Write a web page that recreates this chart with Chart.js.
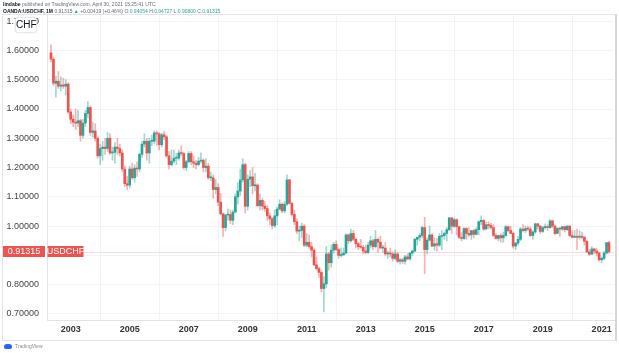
<!DOCTYPE html>
<html>
<head>
<meta charset="utf-8">
<script src="https://cdn.jsdelivr.net/npm/chart.js@4.4.1/dist/chart.umd.min.js"></script>
<style>
  html, body { margin: 0; padding: 0; background: #fff; }
  #wrap { position: relative; width: 619px; height: 353px; overflow: hidden; font-family: "Liberation Sans", Arial, sans-serif; }
  #c { position: absolute; left: 0; top: 0; }
  #frame { position: absolute; left: 2px; top: 14px; width: 612px; height: 325px; border: 1px solid #e3e5ea; border-right: 2px solid #d4d6db; pointer-events: none; }
  .hdr { position: absolute; left: 3px; font-size: 5px; line-height: 6px; color: #6a6d78; white-space: nowrap; }
  .hdr b { color: #131722; }
  .hdr .g { color: #26a69a; }
  #chf { position: absolute; left: 15px; top: 17px; width: 20px; height: 14px; background: #fff; border: 1px solid #e6e8ee; border-radius: 3px; font-size: 10px; line-height: 14px; text-align: center; color: #131722; box-shadow: 0 0 2px rgba(0,0,0,0.10); }
  #logo { position: absolute; left: 4px; top: 343px; font-size: 5px; color: #8a8d96; white-space: nowrap; line-height: 7px; }
  #logo i { display: inline-block; width: 8px; height: 5px; background: #2962ff; border-radius: 3px 3px 2px 2px; margin-right: 3px; vertical-align: middle; }
</style>
</head>
<body>
<div id="wrap">
  <canvas id="c" width="619" height="353"></canvas>
  <div id="frame"></div>
  <div class="hdr" style="top:1px"><b>lindabe</b> published on TradingView.com, April 30, 2021 15:25:41 UTC</div>
  <div class="hdr" style="top:8px"><b>OANDA:USDCHF, 1M</b> 0.91315 <span class="g">▲</span> +0.00419 (+0.46%) O:<span class="g">0.94054</span> H:<span class="g">0.94727</span> L:<span class="g">0.90800</span> C:<span class="g">0.91315</span></div>
  <div id="chf">CHF</div>
  <div id="logo"><i></i>TradingView</div>
</div>
<script>
// ---- data: USDCHF monthly candles, May 2002 .. Apr 2021 ----
const startYear = 2002;
const startMonth = 5;
const yearLabels = ['2003','2005','2007','2009','2011','2013','2015','2017','2019','2021'];
const priceTicks = [0.7,0.8,0.9,1.0,1.1,1.2,1.3,1.4,1.5,1.6,1.7];
const lastPrice = 0.91315;
const symbolName = 'USDCHF';

const open = [
 1.592,1.570,1.488,1.495,1.478,1.482,1.478,1.485,
 1.390,1.365,1.355,1.352,1.360,1.310,1.352,1.385,1.405,1.320,1.325,1.300,
 1.240,1.265,1.270,1.265,1.300,1.250,1.252,1.270,1.265,1.250,1.195,1.145,
 1.140,1.195,1.165,1.198,1.195,1.245,1.280,1.290,1.250,1.290,1.290,1.318,
 1.315,1.278,1.312,1.305,1.240,1.210,1.222,1.232,1.232,1.250,1.248,1.200,
 1.220,1.248,1.220,1.215,1.210,1.222,1.225,1.200,1.205,1.165,1.165,1.125,
 1.132,1.082,1.042,0.995,1.038,1.040,1.020,1.048,1.100,1.120,1.158,1.210,
 1.068,1.160,1.168,1.138,1.140,1.070,1.088,1.068,1.060,1.035,1.025,1.002,
 1.035,1.058,1.075,1.052,1.075,1.158,1.078,1.040,1.015,0.983,0.985,1.000,
 0.935,0.945,0.930,0.918,0.868,0.855,0.842,0.787,0.803,0.905,0.875,0.918,
 0.938,0.920,0.900,0.902,0.908,0.970,0.950,0.975,0.955,0.940,0.930,0.928,
 0.915,0.910,0.935,0.950,0.930,0.955,0.945,0.925,0.925,0.905,0.908,0.905,
 0.890,0.905,0.880,0.885,0.880,0.895,0.888,0.908,0.915,0.955,0.962,0.968,
 0.995,0.920,0.952,0.970,0.932,0.940,0.935,0.965,0.968,0.975,0.988,1.028,
 1.000,1.022,0.998,0.962,0.958,0.992,0.975,0.970,0.985,0.972,0.988,1.015,
 1.020,0.990,1.005,1.002,0.995,0.968,0.958,0.968,0.960,0.968,0.998,0.985,
 0.975,0.932,0.942,0.955,0.990,0.985,0.992,0.990,0.968,0.980,1.008,1.000,
 0.982,0.995,0.998,0.995,1.018,1.000,0.975,0.992,0.990,0.998,0.988,1.000,
 0.968,0.962,0.965,0.962,0.965,0.962,0.948,0.912,0.904,0.922,0.915,0.908,
 0.885,0.890,0.908,0.944
];
const high = [
 1.619,1.578,1.512,1.528,1.510,1.505,1.500,1.490,
 1.400,1.380,1.400,1.395,1.365,1.365,1.395,1.425,1.410,1.355,1.350,1.305,
 1.280,1.290,1.300,1.320,1.315,1.270,1.285,1.300,1.280,1.260,1.205,1.170,
 1.205,1.215,1.210,1.220,1.250,1.290,1.315,1.300,1.300,1.310,1.325,1.325,
 1.320,1.318,1.325,1.310,1.255,1.260,1.260,1.248,1.260,1.275,1.252,1.225,
 1.255,1.255,1.240,1.225,1.235,1.250,1.230,1.230,1.215,1.185,1.175,1.160,
 1.145,1.112,1.045,1.040,1.058,1.055,1.055,1.110,1.150,1.195,1.230,1.215,
 1.175,1.190,1.200,1.180,1.145,1.110,1.095,1.085,1.070,1.045,1.030,1.055,
 1.065,1.090,1.080,1.085,1.175,1.160,1.082,1.055,1.025,1.000,1.010,1.005,
 0.975,0.970,0.945,0.925,0.895,0.860,0.850,0.828,0.930,0.910,0.935,0.945,
 0.950,0.925,0.925,0.925,0.975,0.972,0.990,0.985,0.960,0.945,0.955,0.935,
 0.935,0.945,0.965,0.955,0.985,0.960,0.965,0.935,0.945,0.915,0.925,0.912,
 0.920,0.910,0.890,0.890,0.900,0.905,0.910,0.918,0.958,0.962,0.975,1.000,
 1.030,0.960,1.000,0.975,0.960,0.958,0.975,0.985,0.980,0.995,1.030,1.030,
 1.028,1.025,1.000,0.978,0.995,0.995,0.995,0.985,0.990,0.995,1.018,1.035,
 1.022,1.015,1.015,1.010,1.005,0.975,0.970,0.975,0.980,1.002,1.000,1.000,
 0.980,0.945,0.965,0.995,1.005,1.000,1.000,0.998,0.985,1.010,1.010,1.002,
 1.000,1.008,1.005,1.022,1.020,1.005,0.995,0.995,1.000,1.000,1.002,1.002,
 0.985,0.985,0.990,0.985,0.980,0.965,0.952,0.920,0.930,0.925,0.925,0.910,
 0.895,0.915,0.945,0.948
];
const low = [
 1.560,1.480,1.440,1.470,1.462,1.470,1.448,1.385,
 1.350,1.340,1.330,1.340,1.290,1.300,1.340,1.370,1.310,1.305,1.290,1.232,
 1.210,1.225,1.245,1.255,1.245,1.225,1.215,1.245,1.240,1.185,1.135,1.125,
 1.130,1.160,1.150,1.170,1.185,1.235,1.270,1.225,1.215,1.275,1.280,1.275,
 1.260,1.270,1.295,1.235,1.195,1.205,1.215,1.210,1.225,1.240,1.195,1.190,
 1.215,1.210,1.200,1.195,1.205,1.215,1.185,1.185,1.160,1.155,1.095,1.110,
 1.070,1.038,0.965,0.985,1.020,1.008,1.005,1.045,1.075,1.105,1.150,1.045,
 1.055,1.135,1.110,1.120,1.065,1.055,1.055,1.050,1.020,1.005,0.990,0.995,
 1.005,1.055,1.045,1.045,1.070,1.075,1.035,1.005,0.975,0.950,0.960,0.930,
 0.930,0.925,0.895,0.865,0.850,0.825,0.775,0.707,0.790,0.850,0.860,0.908,
 0.915,0.890,0.895,0.900,0.905,0.940,0.945,0.950,0.925,0.920,0.925,0.905,
 0.905,0.905,0.925,0.920,0.925,0.910,0.925,0.910,0.900,0.890,0.895,0.880,
 0.885,0.875,0.870,0.872,0.870,0.885,0.885,0.900,0.912,0.935,0.950,0.960,
 0.838,0.905,0.950,0.930,0.918,0.915,0.930,0.920,0.955,0.950,0.985,0.975,
 0.995,0.970,0.958,0.950,0.955,0.955,0.965,0.955,0.960,0.970,0.970,1.005,
 0.985,0.990,0.990,0.990,0.965,0.955,0.950,0.945,0.945,0.965,0.980,0.975,
 0.925,0.920,0.935,0.950,0.980,0.978,0.985,0.965,0.955,0.975,0.990,0.975,
 0.978,0.990,0.985,0.992,0.995,0.970,0.975,0.965,0.985,0.980,0.985,0.965,
 0.960,0.960,0.920,0.955,0.958,0.935,0.910,0.900,0.905,0.905,0.898,0.880,
 0.875,0.885,0.905,0.908
];
const close = [
 1.570,1.488,1.495,1.478,1.482,1.478,1.485,1.390,
 1.365,1.355,1.352,1.360,1.310,1.352,1.385,1.405,1.320,1.325,1.300,1.240,
 1.265,1.270,1.265,1.300,1.250,1.252,1.270,1.265,1.250,1.195,1.145,1.140,
 1.195,1.165,1.198,1.195,1.245,1.280,1.290,1.250,1.290,1.290,1.318,1.315,
 1.278,1.312,1.305,1.240,1.210,1.222,1.232,1.232,1.250,1.248,1.200,1.220,
 1.248,1.220,1.215,1.210,1.222,1.225,1.200,1.205,1.165,1.165,1.125,1.132,
 1.082,1.042,0.995,1.038,1.040,1.020,1.048,1.100,1.120,1.158,1.210,1.068,
 1.160,1.168,1.138,1.140,1.070,1.088,1.068,1.060,1.035,1.025,1.002,1.035,
 1.058,1.075,1.052,1.075,1.158,1.078,1.040,1.015,0.983,0.985,1.000,0.935,
 0.945,0.930,0.918,0.868,0.855,0.842,0.787,0.803,0.905,0.875,0.918,0.938,
 0.920,0.900,0.902,0.908,0.970,0.950,0.975,0.955,0.940,0.930,0.928,0.915,
 0.910,0.935,0.950,0.930,0.955,0.945,0.925,0.925,0.905,0.908,0.905,0.890,
 0.905,0.880,0.885,0.880,0.895,0.888,0.908,0.915,0.955,0.962,0.968,0.995,
 0.920,0.952,0.970,0.932,0.940,0.935,0.965,0.968,0.975,0.988,1.028,1.000,
 1.022,0.998,0.962,0.958,0.992,0.975,0.970,0.985,0.972,0.988,1.015,1.020,
 0.990,1.005,1.002,0.995,0.968,0.958,0.968,0.960,0.968,0.998,0.985,0.975,
 0.932,0.942,0.955,0.990,0.985,0.992,0.990,0.968,0.980,1.008,1.000,0.982,
 0.995,0.998,0.995,1.018,1.000,0.975,0.992,0.990,0.998,0.988,1.000,0.968,
 0.962,0.965,0.962,0.965,0.962,0.948,0.912,0.904,0.922,0.915,0.908,0.885,
 0.890,0.908,0.944,0.91315
];

// ---- build library structures ----
const UP = '#26a69a', DOWN = '#ef5350';
const UP_W = 'rgba(38,166,154,0.45)', DOWN_W = 'rgba(239,83,80,0.45)';
const idx = open.map((_, i) => i);
const isUp = idx.map(i => close[i] >= open[i]);
const yearTickIdx = yearLabels.map(y => (parseInt(y, 10) - startYear) * 12 + (1 - startMonth));

const bodies = idx.map(i => ({ x: i, y: [open[i], close[i]] }));
const wicks = idx.map(i => ({ x: i, y: [low[i], high[i]] }));

const priceLinePlugin = {
  id: 'priceLine',
  beforeDatasetsDraw(chart) {
    const { ctx, chartArea } = chart;
    const y = Math.round(chart.scales.y.getPixelForValue(lastPrice)) + 0.5;
    ctx.save();
    ctx.strokeStyle = 'rgba(239,83,80,0.22)';
    ctx.lineWidth = 1;
    ctx.beginPath();
    ctx.moveTo(chartArea.left, y);
    ctx.lineTo(chartArea.right, y);
    ctx.stroke();
    ctx.restore();
  },
  afterDraw(chart) {
    const { ctx, chartArea } = chart;
    const y = chart.scales.y.getPixelForValue(lastPrice);
    const h = 11;
    const top = Math.round(y - h / 2);
    ctx.save();
    ctx.fillStyle = DOWN;
    ctx.fillRect(3, top, chartArea.left - 5, h);
    ctx.fillRect(chartArea.left + 0.5, top, 36, h);
    ctx.fillStyle = '#ffffff';
    ctx.font = '9px "Liberation Sans", Arial, sans-serif';
    ctx.textAlign = 'center';
    ctx.textBaseline = 'middle';
    ctx.fillText(lastPrice.toFixed(5), 3 + (chartArea.left - 5) / 2, top + h / 2 + 0.5);
    ctx.fillText(symbolName, chartArea.left + 18.5, top + h / 2 + 0.5);
    ctx.restore();
  }
};

new Chart(document.getElementById('c'), {
  type: 'bar',
  data: {
    datasets: [
      { label: 'body', data: bodies, backgroundColor: idx.map(i => isUp[i] ? UP : DOWN),
        barThickness: 2, grouped: false, minBarLength: 1, borderWidth: 0, order: 1 },
      { label: 'wick', data: wicks, backgroundColor: idx.map(i => isUp[i] ? UP_W : DOWN_W),
        barThickness: 1, grouped: false, borderWidth: 0, order: 2 }
    ]
  },
  options: {
    responsive: false,
    animation: false,
    events: [],
    layout: { padding: { left: 3, top: 15, right: 5, bottom: 13 } },
    plugins: { legend: { display: false }, tooltip: { enabled: false } },
    scales: {
      x: {
        type: 'linear', min: -1.63, max: 229.03, offset: false,
        grid: { color: '#f0f3fa', drawTicks: false },
        border: { color: '#e0e3eb' },
        afterBuildTicks: s => { s.ticks = yearTickIdx.map(v => ({ value: v })); },
        afterFit: s => { s.height = 20; },
        ticks: {
          autoSkip: false, maxRotation: 0, padding: 4, color: '#333',
          font: { size: 9, weight: 'bold', family: '"Liberation Sans", Arial, sans-serif' },
          callback: v => yearLabels[yearTickIdx.indexOf(v)]
        }
      },
      y: {
        type: 'linear', position: 'left', min: 0.6795, max: 1.721,
        grid: { color: '#f0f3fa', drawTicks: false },
        border: { color: '#e0e3eb' },
        afterBuildTicks: s => { s.ticks = priceTicks.map(v => ({ value: v })); },
        afterFit: s => { s.width = 44; },
        ticks: {
          padding: 8, color: '#444',
          font: { size: 9, family: '"Liberation Sans", Arial, sans-serif' },
          callback: v => Math.abs(v - lastPrice) < 0.03 ? '' : v.toFixed(5)
        }
      }
    }
  },
  plugins: [priceLinePlugin]
});
</script>
</body>
</html>
